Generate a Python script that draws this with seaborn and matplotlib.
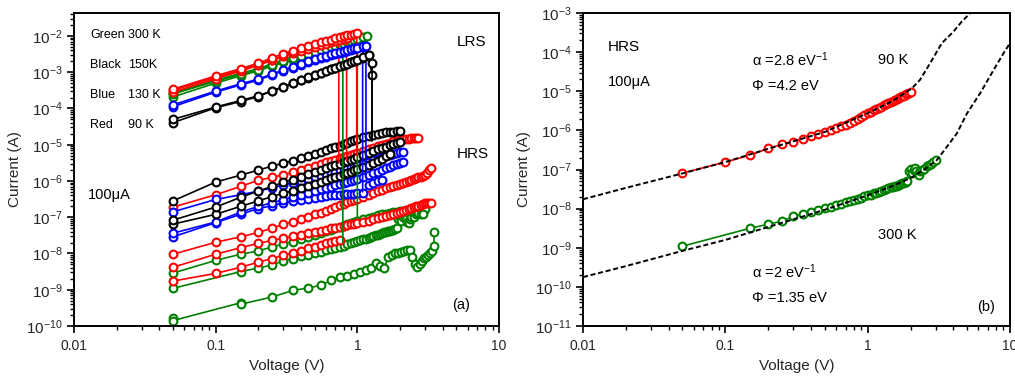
import numpy as np
import matplotlib
matplotlib.use("Agg")
import matplotlib.pyplot as plt
import seaborn as sns
from matplotlib.ticker import LogLocator, NullFormatter

# ---------------- data (currents stored as log10(I / A)) ----------------
v_grid = [0.05, 0.1, 0.15, 0.2, 0.25, 0.3, 0.35, 0.4, 0.45, 0.5,
          0.55, 0.6, 0.65, 0.7, 0.75, 0.8, 0.85, 0.9, 0.95, 1.0,
          1.1, 1.2, 1.3, 1.4, 1.5, 1.6, 1.7, 1.8, 1.9, 2.0,
          2.1, 2.2, 2.3, 2.4, 2.5, 2.6, 2.7, 2.8, 2.9, 3.0,
          3.1, 3.2, 3.3, 3.4]

# LRS sweeps (panel a) and their reset drops: (voltage, top, bottom)
red_lrs1 = [-3.47, -3.10, -2.90, -2.75, -2.60, -2.49, -2.41, -2.34, -2.28, -2.23,
            -2.18, -2.14, -2.10, -2.06, -2.03, -2.00, -1.98, -1.96, -1.94]
red_lrs1_drop = (0.99, -1.93, -5.30)
red_lrs2 = [-3.55, -3.18, -2.97, -2.81, -2.67, -2.56, -2.48, -2.41, -2.35, -2.30,
            -2.25, -2.21, -2.17, -2.13, -2.10, -2.07]
red_lrs2_drop = (0.84, -2.05, -5.45)
red_lrs3 = [-3.50, -3.14, -2.94, -2.79, -2.65, -2.54, -2.46, -2.39, -2.33, -2.28,
            -2.23, -2.19, -2.15, -2.11]
red_lrs3_drop = (0.74, -2.09, -5.50)

green_lrs1 = [-3.60, -3.25, -3.06, -2.93, -2.80, -2.70, -2.62, -2.55, -2.49, -2.44,
              -2.39, -2.35, -2.31, -2.27, -2.24, -2.21, -2.18, -2.15, -2.12, -2.09, -2.02]
green_lrs1_drop = (1.17, -1.99, -2.25)
green_lrs2 = [-3.68, -3.30, -3.10, -2.96, -2.83, -2.73, -2.65, -2.58, -2.52, -2.47,
              -2.42, -2.38, -2.34, -2.30, -2.27, -2.24, -2.21, -2.18, -2.15]
green_lrs2_drop = (1.0, -2.12, -7.00)
green_lrs3 = [-3.58, -3.22, -3.03, -2.90, -2.77, -2.68, -2.60, -2.53, -2.47, -2.42,
              -2.37, -2.33, -2.29, -2.26, -2.23]
green_lrs3_drop = (0.79, -2.21, -7.69)

blue_lrs1 = [-3.95, -3.55, -3.35, -3.22, -3.07, -2.96, -2.87, -2.79, -2.72, -2.66,
             -2.61, -2.57, -2.53, -2.50, -2.47, -2.44, -2.41, -2.38, -2.36, -2.34]
blue_lrs1_drop = (1.09, -2.31, -6.30)
blue_lrs2 = [-3.90, -3.52, -3.32, -3.19, -3.05, -2.94, -2.85, -2.77, -2.70, -2.64,
             -2.59, -2.55, -2.51, -2.48, -2.45, -2.42, -2.39, -2.36, -2.34, -2.32, -2.28]
blue_lrs2_drop = (1.15, -2.27, -5.90)

black_lrs1 = [-4.39, -3.98, -3.81, -3.67, -3.52, -3.41, -3.31, -3.22, -3.15, -3.08,
              -3.02, -2.97, -2.92, -2.88, -2.84, -2.80, -2.77, -2.73, -2.70, -2.67,
              -2.60, -2.52]
black_lrs1_drop = (1.27, -3.08, -4.85)
black_lrs2 = [-4.30, -3.96, -3.78, -3.65, -3.51, -3.40, -3.30, -3.21, -3.14, -3.07,
              -3.01, -2.96, -2.91, -2.87, -2.83, -2.79, -2.76, -2.72, -2.69, -2.66,
              -2.59, -2.53]
black_lrs2_drop = (1.27, -2.75, -4.90)

# HRS sweeps (panel a)
black_hrs1 = [-6.55, -6.03, -5.84, -5.70, -5.59, -5.51, -5.44, -5.37, -5.31, -5.25,
              -5.19, -5.14, -5.10, -5.06, -5.03, -4.99, -4.95, -4.90, -4.87, -4.84,
              -4.80, -4.76, -4.73, -4.70, -4.68, -4.66, -4.65, -4.64, -4.63, -4.63]
black_hrs2 = [-7.08, -6.72, -6.45, -6.28, -6.15, -6.04, -5.96, -5.89, -5.82, -5.76,
              -5.70, -5.65, -5.60, -5.56, -5.52, -5.48, -5.44, -5.41, -5.38, -5.35,
              -5.29, -5.23, -5.18, -5.13, -5.09, -5.05, -5.01, -4.98, -4.95, -4.92]
black_hrs3 = [-7.19, -6.92, -6.70, -6.55, -6.43, -6.34, -6.27, -6.20, -6.13, -6.07,
              -6.02, -5.97, -5.93, -5.89, -5.85, -5.81, -5.77, -5.74, -5.71, -5.68,
              -5.62, -5.56, -5.50, -5.44, -5.38, -5.32, -5.26]

blue_hrs1 = [-6.85, -6.51, -6.38, -6.28, -6.19, -6.11, -6.05, -5.99, -5.94, -5.89,
             -5.85, -5.81, -5.77, -5.74, -5.71, -5.68, -5.65, -5.62, -5.59, -5.57,
             -5.52, -5.47, -5.43, -5.39, -5.35, -5.32, -5.29, -5.26, -5.23, -5.21, -5.19]
blue_hrs2 = [-7.44, -7.13, -6.86, -6.70, -6.60, -6.52, -6.44, -6.38, -6.32, -6.27,
             -6.23, -6.19, -6.16, -6.12, -6.09, -6.06, -6.03, -6.00, -5.97, -5.94,
             -5.88, -5.83, -5.78, -5.74, -5.70, -5.65, -5.61, -5.57, -5.53, -5.50, -5.47]
blue_hrs3 = [-7.54, -7.15, -6.92, -6.76, -6.68, -6.61, -6.56, -6.52, -6.49, -6.46,
             -6.44, -6.42, -6.40, -6.39, -6.38, -6.37, -6.36, -6.35, -6.35, -6.34,
             -6.34, -6.12, -6.05, -6.01, -5.98]

red_hrs1 = [-6.72, -6.38, -6.15, -5.98, -5.90, -5.83, -5.76, -5.70, -5.64, -5.59,
            -5.54, -5.49, -5.45, -5.41, -5.37, -5.34, -5.31, -5.28, -5.25, -5.22,
            -5.17, -5.12, -5.08, -5.04, -5.00, -4.97, -4.94, -4.91, -4.89, -4.87,
            -4.85, -4.84, -4.83, -4.82, -4.82, -4.81, -4.81]
red_hrs2 = [-8.02, -7.69, -7.54, -7.42, -7.30, -7.20, -7.12, -7.05, -6.98, -6.92,
            -6.87, -6.82, -6.77, -6.72, -6.67, -6.63, -6.59, -6.55, -6.52, -6.49,
            -6.43, -6.38, -6.33, -6.28, -6.24, -6.20, -6.17, -6.14, -6.11, -6.08,
            -6.05, -6.02, -5.99, -5.97, -5.94, -5.92, -5.90, -5.88, -5.86, -5.84,
            -5.78, -5.70, -5.65]
red_hrs3 = [-8.38, -8.02, -7.84, -7.72, -7.64, -7.58, -7.53, -7.48, -7.44, -7.40,
            -7.37, -7.34, -7.31, -7.29, -7.27, -7.25, -7.22, -7.20, -7.18, -7.16,
            -7.12, -7.09, -7.06, -7.03, -7.00, -6.97, -6.94, -6.91, -6.88, -6.85,
            -6.82, -6.79, -6.76, -6.74, -6.72, -6.70, -6.68, -6.66, -6.64, -6.62,
            -6.61, -6.60, -6.60]
red_hrs4 = [-8.76, -8.55, -8.38, -8.24, -8.14, -8.05, -7.98, -7.92, -7.86, -7.81,
            -7.76, -7.72, -7.68, -7.65, -7.62]

green_hrs1 = [-8.54, -8.19, -8.02, -7.93, -7.82, -7.74, -7.67, -7.60, -7.54, -7.48,
              -7.43, -7.38, -7.34, -7.30, -7.26, -7.23, -7.20, -7.17, -7.14, -7.11,
              -7.06, -7.02, -6.98, -6.95, -6.92, -6.90, -6.88, -6.86, -6.85, -6.84,
              -6.83, -6.82, -6.81, -6.82, -6.84, -6.86, -6.88, -6.90, -6.92]

green_low_v = [0.05, 0.05, 0.15, 0.15, 0.25, 0.35, 0.45, 0.55, 0.65, 0.75,
               0.85, 0.95, 1.05, 1.15, 1.25, 1.35, 1.45, 1.55, 1.65, 1.75,
               1.85, 1.95, 2.05, 2.15, 2.25, 2.35, 2.45, 2.55, 2.65, 2.75,
               2.85, 2.95, 3.05, 3.15, 3.25, 3.35, 3.45, 3.5]
green_low = [-9.78, -9.85, -9.36, -9.40, -9.20, -9.02, -8.95, -8.88, -8.74, -8.66,
             -8.63, -8.56, -8.51, -8.45, -8.41, -8.27, -8.35, -8.41, -8.10, -8.05,
             -8.00, -7.98, -7.96, -7.93, -7.91, -7.90, -8.10, -8.30, -8.37, -8.30,
             -8.20, -8.13, -8.10, -8.05, -7.98, -7.93, -7.80, -7.41]

# panel (b): HRS at 90 K (red) and 300 K (green)
hrs90_v = [0.05, 0.1, 0.15, 0.2, 0.25, 0.3, 0.35, 0.4, 0.45, 0.5,
           0.55, 0.6, 0.65, 0.7, 0.75, 0.8, 0.85, 0.9, 0.95, 1.0,
           1.05, 1.1, 1.15, 1.2, 1.25, 1.3, 1.35, 1.4, 1.45, 1.5,
           1.55, 1.6, 1.65, 1.7, 1.75, 1.8, 1.85, 1.9, 1.95, 2.0]
hrs90 = [-7.09, -6.81, -6.63, -6.46, -6.36, -6.29, -6.21, -6.15, -6.08, -6.04,
         -6.00, -5.95, -5.90, -5.85, -5.80, -5.75, -5.70, -5.65, -5.60, -5.56,
         -5.52, -5.49, -5.46, -5.42, -5.39, -5.36, -5.33, -5.30, -5.27, -5.25,
         -5.22, -5.20, -5.17, -5.15, -5.13, -5.11, -5.08, -5.06, -5.04, -5.02]
hrs300_v = [0.05, 0.15, 0.2, 0.25, 0.3, 0.35, 0.4, 0.45, 0.5, 0.55,
            0.6, 0.65, 0.7, 0.75, 0.8, 0.85, 0.9, 0.95, 1.0, 1.05,
            1.1, 1.15, 1.2, 1.25, 1.3, 1.35, 1.4, 1.45, 1.5, 1.55,
            1.6, 1.65, 1.7, 1.75, 1.8, 1.85, 1.9, 1.95, 2.0, 2.05,
            2.1, 2.15, 2.2, 2.25, 2.3, 2.35, 2.4, 2.5, 2.6, 2.7,
            2.8, 2.9, 3.0]
hrs300 = [-8.96, -8.50, -8.40, -8.32, -8.20, -8.14, -8.08, -8.03, -7.99, -7.95,
          -7.91, -7.88, -7.84, -7.81, -7.78, -7.75, -7.72, -7.69, -7.66, -7.64,
          -7.61, -7.59, -7.57, -7.54, -7.52, -7.50, -7.48, -7.46, -7.44, -7.42,
          -7.41, -7.39, -7.37, -7.35, -7.34, -7.32, -7.30, -7.05, -6.98, -7.10,
          -7.00, -6.95, -7.05, -7.12, -7.15, -7.05, -7.00, -6.98, -6.92, -6.88,
          -6.85, -6.80, -6.76]

fit90_v = [0.01, 0.02, 0.05, 0.1, 0.2, 0.5, 1.0, 1.5, 2.04, 2.33, 2.74, 3.32, 4.0, 4.58, 5.1, 5.4]
fit90 = [-7.76, -7.47, -7.10, -6.81, -6.47, -6.04, -5.56, -5.25, -4.93, -4.71, -4.29, -3.77,
         -3.48, -3.22, -3.05, -2.97]
fit300_v = [0.01, 0.02, 0.05, 0.1, 0.2, 0.5, 1.0, 1.5, 2.0, 2.5, 3.06, 3.6, 4.23, 4.98, 6.17,
            7.66, 9.0, 10.0]
fit300 = [-9.75, -9.47, -9.08, -8.80, -8.47, -8.03, -7.66, -7.42, -7.22, -7.00, -6.76, -6.42,
          -6.08, -5.57, -5.05, -4.46, -4.03, -3.77]

x_ticks = [0.01, 0.1, 1, 10]
x_tick_labels = ["0.01", "0.1", "1", "10"]

# ---------------- style ----------------
sns.set_style("ticks")
plt.rcParams['font.family'] = ['Liberation Sans', 'DejaVu Sans']
plt.rcParams['mathtext.fontset'] = 'custom'
plt.rcParams['mathtext.rm'] = 'Liberation Sans'
plt.rcParams['mathtext.it'] = 'Liberation Sans:italic'
plt.rcParams['mathtext.bf'] = 'Liberation Sans:bold'

RED, GREEN, BLUE, BLACK = '#ff0000', '#008000', '#0000ff', '#000000'

fig = plt.figure(figsize=(10.15, 3.81), dpi=100)
ax1 = fig.add_axes([74 / 1015, 55 / 381, 425 / 1015, 313 / 381])
ax2 = fig.add_axes([583 / 1015, 55 / 381, 427 / 1015, 313 / 381])


def draw(ax, v, logi, color, markevery=None, ms=5.6, lw=1.2, z=2):
    v = list(v)[:len(logi)]
    cur = [10.0 ** x for x in logi]
    kw = {}
    if markevery is not None:
        kw['markevery'] = markevery
    sns.lineplot(x=v, y=cur, ax=ax, color=color, sort=False, estimator=None,
                 errorbar=None, marker='o', markersize=ms, markerfacecolor='white',
                 markeredgecolor=color, markeredgewidth=1.5, linewidth=lw,
                 legend=False, zorder=z, **kw)


for ax in (ax1, ax2):
    ax.set_xscale('log')
    ax.set_yscale('log')

# panel (a) HRS
draw(ax1, green_low_v, green_low, GREEN)
draw(ax1, hrs300_v, hrs300, GREEN)
draw(ax1, v_grid, green_hrs1, GREEN)
for vals in (red_hrs4, red_hrs3, red_hrs2, red_hrs1):
    draw(ax1, v_grid, vals, RED)
for vals in (blue_hrs3, blue_hrs2, blue_hrs1):
    draw(ax1, v_grid, vals, BLUE)
for vals in (black_hrs3, black_hrs2, black_hrs1):
    draw(ax1, v_grid, vals, BLACK)

# panel (a) LRS with reset drops
lrs = [(green_lrs3, green_lrs3_drop, GREEN), (green_lrs2, green_lrs2_drop, GREEN),
       (green_lrs1, green_lrs1_drop, GREEN),
       (red_lrs3, red_lrs3_drop, RED), (red_lrs2, red_lrs2_drop, RED),
       (red_lrs1, red_lrs1_drop, RED),
       (blue_lrs1, blue_lrs1_drop, BLUE), (blue_lrs2, blue_lrs2_drop, BLUE),
       (black_lrs1, black_lrs1_drop, BLACK), (black_lrs2, black_lrs2_drop, BLACK)]
for vals, (vd, top, bot), col in lrs:
    n = len(vals)
    v = v_grid[:n] + [vd, vd]
    li = vals + [top, bot]
    draw(ax1, v, li, col, markevery=list(range(n + 1)))

# panel (b)
draw(ax2, hrs90_v, hrs90, RED)
draw(ax2, hrs300_v, hrs300, GREEN)
for fv, fl in ((fit90_v, fit90), (fit300_v, fit300)):
    sns.lineplot(x=fv, y=[10.0 ** x for x in fl], ax=ax2, color='black', sort=False,
                 estimator=None, errorbar=None, linewidth=1.4, linestyle=(0, (2.6, 1.4)),
                 legend=False, zorder=3)

# axes formatting
ax1.set_xlim(0.01, 10)
ax1.set_ylim(1e-10, 4.3e-2)
ax2.set_xlim(0.01, 10)
ax2.set_ylim(1e-11, 1e-3)
for ax in (ax1, ax2):
    ax.set_xticks(x_ticks, x_tick_labels)
    ax.xaxis.set_minor_locator(LogLocator(base=10, subs=np.arange(2, 10), numticks=50))
    ax.xaxis.set_minor_formatter(NullFormatter())
    ax.yaxis.set_major_locator(LogLocator(base=10, numticks=50))
    ax.yaxis.set_minor_locator(LogLocator(base=10, subs=np.arange(2, 10), numticks=50))
    ax.yaxis.set_minor_formatter(NullFormatter())
    ax.tick_params(which='both', direction='out', top=False, right=False, color='black')
    ax.tick_params(which='major', length=5, width=1.2)
    ax.tick_params(which='minor', length=3, width=1.0)
    ax.tick_params(axis='x', labelsize=10, pad=4)
    ax.tick_params(axis='y', labelsize=11, pad=3)
    for s in ax.spines.values():
        s.set_linewidth(1.4)
        s.set_color('black')
    ax.set_xlabel('Voltage (V)', fontsize=11)
    ax.set_ylabel('Current (A)', fontsize=11)
    ax.xaxis.set_label_coords(0.5, -0.105)
    ax.yaxis.set_label_coords(-0.122, 0.5)
    ax.set_facecolor('white')

# annotations panel (a)
t1 = dict(transform=ax1.transAxes, va='center', ha='left', color='black')
for y, name, temp in ((0.93, 'Green', '300 K'), (0.834, 'Black', '150K'),
                      (0.738, 'Blue', '130 K'), (0.642, 'Red', '90 K')):
    ax1.text(0.038, y, name, fontsize=9, **t1)
    ax1.text(0.127, y, temp, fontsize=9, **t1)
ax1.text(0.901, 0.908, 'LRS', fontsize=11, **t1)
ax1.text(0.901, 0.55, 'HRS', fontsize=11, **t1)
ax1.text(0.033, 0.419, '100μA', fontsize=10.5, **t1)
ax1.text(0.889, 0.067, '(a)', fontsize=10.5, **t1)

# annotations panel (b)
t2 = dict(transform=ax2.transAxes, va='center', ha='left', color='black')
ax2.text(0.059, 0.891, 'HRS', fontsize=11, **t2)
ax2.text(0.059, 0.78, '100μA', fontsize=10.5, **t2)
ax2.text(0.396, 0.85, 'α =2.8 eV$^{-1}$', fontsize=10.5, **t2)
ax2.text(0.396, 0.767, 'Φ =4.2 eV', fontsize=10.5, **t2)
ax2.text(0.691, 0.85, '90 K', fontsize=10.5, **t2)
ax2.text(0.691, 0.291, '300 K', fontsize=10.5, **t2)
ax2.text(0.396, 0.173, 'α =2 eV$^{-1}$', fontsize=10.5, **t2)
ax2.text(0.396, 0.089, 'Φ =1.35 eV', fontsize=10.5, **t2)
ax2.text(0.923, 0.061, '(b)', fontsize=10.5, **t2)

fig.savefig('out.png', dpi=100, facecolor='white')
